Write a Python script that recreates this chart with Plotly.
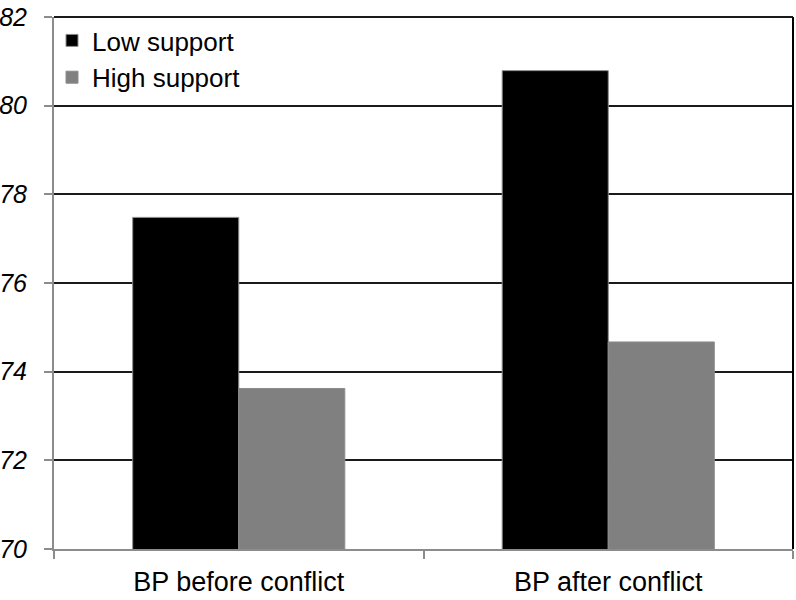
import plotly.graph_objects as go

categories = ["BP before conflict", "BP after conflict"]
low_support = [77.48, 80.79]
high_support = [73.62, 74.67]
y_ticks = [70, 72, 74, 76, 78, 80, 82]

font = "Liberation Sans, Arial, sans-serif"

fig = go.Figure()
fig.add_trace(go.Bar(
    x=categories, y=low_support, name="Low support",
    marker=dict(color="#000000", line=dict(color="#8c8c8c", width=1)),
))
fig.add_trace(go.Bar(
    x=categories, y=high_support, name="High support",
    marker=dict(color="#808080", line=dict(color="#8c8c8c", width=1)),
))

fig.update_layout(
    width=796, height=600,
    margin=dict(l=54, r=3, t=17, b=51),
    paper_bgcolor="white", plot_bgcolor="white",
    barmode="group", bargap=0.426, bargroupgap=0,
    font=dict(family=font, size=27, color="#000000"),
    showlegend=True,
    legend=dict(x=0, y=1, xanchor="left", yanchor="top",
                bgcolor="rgba(0,0,0,0)", font=dict(size=26),
                itemwidth=30, tracegroupgap=0, indentation=-2),
    xaxis=dict(
        automargin=False,
        showline=True, linecolor="#8c8c8c", linewidth=2,
        ticks="outside", tickson="boundaries", ticklen=8, tickcolor="#8c8c8c",
        tickwidth=2, showgrid=False, ticklabelstandoff=8,
    ),
    yaxis=dict(
        automargin=False,
        range=[70, 82], tickvals=y_ticks,
        showline=True, linecolor="#8c8c8c", linewidth=2,
        ticks="outside", ticklen=8, tickcolor="#8c8c8c", tickwidth=2,
        showgrid=True, gridcolor="#1a1a1a", gridwidth=2,
        zeroline=False, ticklabelstandoff=12,
        tickfont=dict(family=font, size=25, style="italic"),
    ),
    shapes=[
        dict(type="line", xref="paper", yref="paper", x0=1, x1=1, y0=0, y1=1,
             line=dict(color="#000000", width=2)),
        dict(type="line", xref="paper", yref="paper", x0=0, x1=1, y0=1, y1=1,
             line=dict(color="#1a1a1a", width=2)),
    ],
)

# the page body has a default 8px margin; drop it so the figure sits at 0,0
fig.write_html("out.html", config={"displayModeBar": False},
               post_script="document.body.style.margin='0';")
